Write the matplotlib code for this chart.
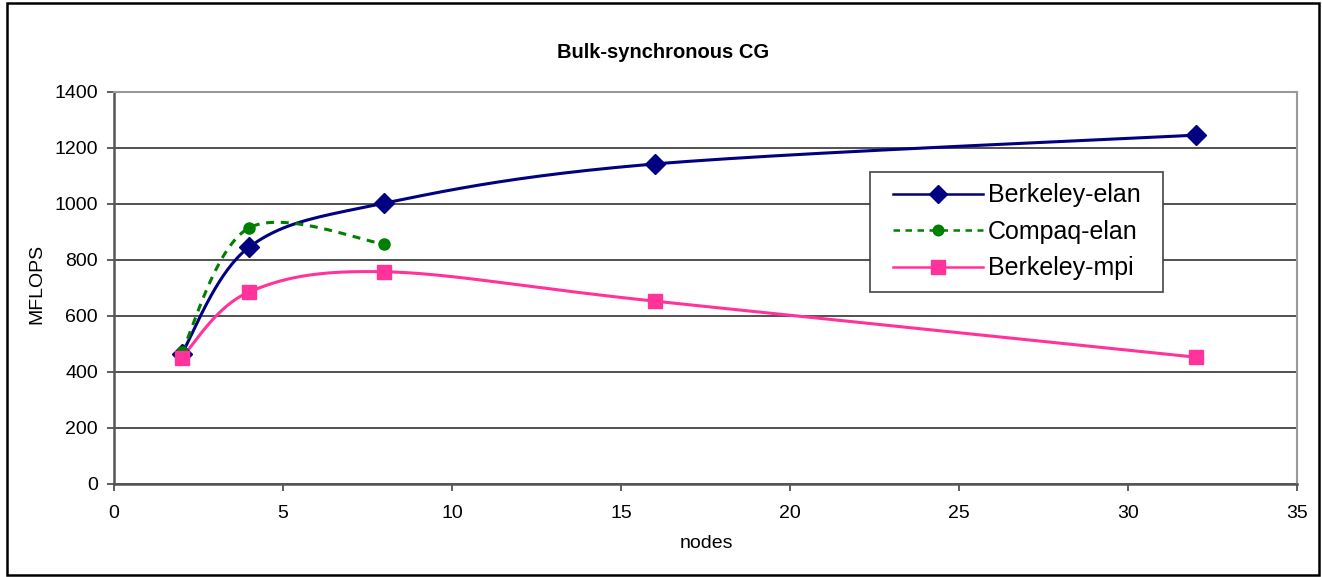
import numpy as np
import matplotlib
matplotlib.use("Agg")
import matplotlib.pyplot as plt
from matplotlib.patches import Rectangle

# values
nodes_berkeley = [2, 4, 8, 16, 32]
berkeley_elan = [465, 846, 1003, 1143, 1246]
nodes_compaq = [2, 4, 8]
compaq_elan = [471, 915, 857]
berkeley_mpi = [451, 686, 758, 653, 453]

plt.rcParams['font.family'] = ['Liberation Sans', 'DejaVu Sans']

W, H = 1322, 577
fig = plt.figure(figsize=(W / 100, H / 100), dpi=100)
ax = fig.add_axes([114 / W, 1 - 484 / H, (1297 - 114) / W, (484 - 92) / H])

XMAX, YMAX = 35, 1400
SX, SY = (1297 - 114) / XMAX, (484 - 92) / YMAX


def smooth(xs, ys, n=40):
    """Excel-like smoothed line: cubic Bezier through points (Catmull-Rom) in screen space."""
    p = np.column_stack([np.asarray(xs, float) * SX, np.asarray(ys, float) * SY])
    out = [p[0]]
    for i in range(len(p) - 1):
        p0 = p[i - 1] if i > 0 else p[i]
        p1, p2 = p[i], p[i + 1]
        p3 = p[i + 2] if i + 2 < len(p) else p[i + 1]
        c1 = p1 + (p2 - p0) / 6
        c2 = p2 - (p3 - p1) / 6
        t = np.linspace(0, 1, n)[1:, None]
        seg = ((1 - t) ** 3) * p1 + 3 * ((1 - t) ** 2) * t * c1 + 3 * (1 - t) * t ** 2 * c2 + t ** 3 * p2
        out.extend(seg)
    out = np.array(out)
    return out[:, 0] / SX, out[:, 1] / SY


series = [
    ("Berkeley-elan", nodes_berkeley, berkeley_elan, "#000080", "-", "D", 10),
    ("Compaq-elan", nodes_compaq, compaq_elan, "#008000", (0, (2.6, 2.2)), "o", 8),
    ("Berkeley-mpi", nodes_berkeley, berkeley_mpi, "#FF3399", "-", "s", 10),
]

handles = []
for name, xs, ys, col, ls, mk, ms in series:
    sx, sy = smooth(xs, ys)
    ax.plot(sx, sy, color=col, ls=ls, lw=2.2, zorder=3)
    ax.plot(xs, ys, ls="none", marker=mk, ms=ms, color=col, zorder=4)
    h, = ax.plot([], [], color=col, ls=ls, lw=1.8, marker=mk, ms=ms * 0.95)
    handles.append(h)

ax.set_xlim(0, XMAX)
ax.set_ylim(0, YMAX)
ax.set_xticks(range(0, 36, 5))
ax.set_yticks(range(0, 1401, 200))
ax.yaxis.grid(True, color="#333333", lw=1.2)
ax.set_axisbelow(True)
ax.tick_params(direction="out", length=5, width=1.2, labelsize=14, colors="#444444", labelcolor="black")
ax.tick_params(axis="x", pad=10)
ax.tick_params(axis="y", pad=6.5)
for s in ["left", "bottom"]:
    ax.spines[s].set_color("#555555")
    ax.spines[s].set_linewidth(1.8)
for s in ["top", "right"]:
    ax.spines[s].set_color("#999999")
    ax.spines[s].set_linewidth(1.5)

ax.set_xlabel("nodes", fontsize=14, va="center")
ax.set_ylabel("MFLOPS", fontsize=14, va="center")
ax.xaxis.set_label_coords((706 - 114) / 1183, (484 - 544) / 392)
ax.yaxis.set_label_coords((37 - 114) / 1183, (484 - 284) / 392)
fig.text(663 / W, 1 - 52 / H, "Bulk-synchronous CG", ha="center", va="center",
         fontsize=14.5, fontweight="bold")

# legend frame drawn by hand (Excel pads wider left/right than top/bottom)
lx0, ly0, lx1, ly1 = 870, 172, 1163, 292
fig.patches.append(Rectangle((lx0 / W, 1 - ly1 / H), (lx1 - lx0) / W, (ly1 - ly0) / H,
                             transform=fig.transFigure, facecolor="white",
                             edgecolor="#444444", lw=1.2, zorder=5))
leg = fig.legend(handles, [s[0] for s in series], loc="center",
                 bbox_to_anchor=((lx0 + lx1) / 2 / W, 1 - (ly0 + ly1) / 2 / H),
                 fontsize=18, frameon=False, borderpad=0, borderaxespad=0,
                 handlelength=3.6, handletextpad=0.2, labelspacing=0.5)
leg.set_zorder(6)

fig.patches.append(Rectangle((7 / W, 2 / H), (1319 - 7) / W, (574 - 2) / H, transform=fig.transFigure,
                             fill=False, edgecolor="black", lw=1.8))

fig.savefig("out.png", dpi=100)
